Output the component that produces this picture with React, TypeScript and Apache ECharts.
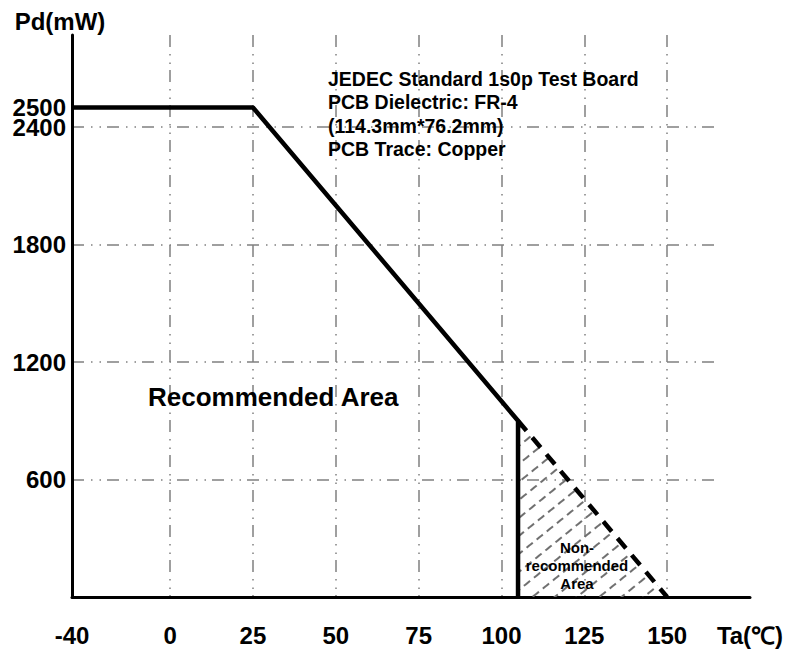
import React, { useEffect, useRef } from "react";
import * as echarts from "echarts";

// ---- data ----
const xLabelValues = [-40, 0, 25, 50, 75, 100, 125, 150, 175];
const xGridValues = [0, 25, 50, 75, 100, 125, 150];
const yLabelValues = [600, 1200, 1800, 2400];
const yExtraLabelValues = [2500];
const yGridValues = [600, 1200, 1800, 2400];
const deratingTa = [-40, 25, 105, 105];
const deratingPd = [2500, 2500, 900, 0];
const nonRecTa = [105, 150];
const nonRecPd = [900, 0];
const xAxisTitle = "Ta(℃)";
const yAxisTitle = "Pd(mW)";
const noteLines = [
  "JEDEC Standard 1s0p Test Board",
  "PCB Dielectric: FR-4",
  "(114.3mm*76.2mm)",
  "PCB Trace: Copper",
];

const FONT = "'Liberation Sans', Arial, sans-serif";
const GRID_TYPE = [12, 7, 1.5, 7, 1.5, 6];

export default function App() {
  const ref = useRef<HTMLDivElement>(null);
  useEffect(() => {
    if (!ref.current) return;
    const chart = echarts.init(ref.current, null, { renderer: "svg" });
    const derating = deratingTa.map((t, i) => [t, deratingPd[i]]);
    const nonRec = nonRecTa.map((t, i) => [t, nonRecPd[i]]);
    const hatch = {
      symbol: "rect",
      symbolSize: 1,
      color: "#707070",
      backgroundColor: "rgba(255,255,255,0)",
      dashArrayX: [[8, 5]],
      dashArrayY: [2, 12],
      rotation: -0.68,
    };
    const labelText = {
      fontSize: 24,
      fontWeight: "bold",
      fontFamily: FONT,
      color: "#000",
    };
    const option: any = {
      animation: false,
      backgroundColor: "#ffffff",
      textStyle: { fontFamily: FONT },
      grid: [
        { left: 72, right: 38, top: 35, bottom: 53 },
        { left: 72, right: 74, top: 35, bottom: 53 },
        { left: 72, right: 38, top: 35, bottom: 53 },
      ],
      xAxis: [
        {
          type: "value",
          gridIndex: 0,
          min: -40,
          max: 175,
          breaks: [{ start: -35, end: -5, gap: 19.6 }],
          breakArea: { show: false },
          axisLine: { show: false },
          axisTick: { show: false, customValues: xGridValues },
          axisLabel: {
            customValues: xLabelValues,
            hideOverlap: false,
            margin: 26,
            ...labelText,
            formatter: (v: number) => (v === 175 ? "{n|" + xAxisTitle + "}" : String(v)),
            rich: { n: { ...labelText } },
          },
          splitLine: {
            show: true,
            lineStyle: { color: "#808080", width: 1.5, type: GRID_TYPE },
          },
        },
        {
          type: "value",
          gridIndex: 1,
          min: 0,
          max: 1,
          show: false,
        },
        {
          type: "value",
          gridIndex: 2,
          min: 0,
          max: 1,
          axisLine: { show: true, onZero: false, lineStyle: { color: "#000", width: 3 } },
          axisTick: { show: false },
          axisLabel: { show: false },
          splitLine: { show: false },
          z: 3,
        },
      ],
      yAxis: [
        {
          type: "value",
          gridIndex: 0,
          min: 0,
          max: 2870,
          name: yAxisTitle,
          nameLocation: "end",
          nameGap: 2,
          nameTextStyle: {
            ...labelText,
            align: "center",
            padding: [0, 24, 0, 0],
          },
          axisLine: { show: true, onZero: false, lineStyle: { color: "#000", width: 3 } },
          axisTick: { show: false, customValues: yLabelValues },
          axisLabel: {
            customValues: yLabelValues,
            hideOverlap: false,
            margin: 6,
            ...labelText,
            lineHeight: 18,
            formatter: (v: number) => String(v),
          },
          splitLine: { show: false },
          z: 3,
        },
        {
          type: "value",
          gridIndex: 1,
          min: 0,
          max: 2870,
          axisLine: { show: false },
          axisLabel: {
            show: true,
            customValues: yExtraLabelValues,
            margin: 6,
            ...labelText,
            lineHeight: 18,
            formatter: (v: number) => String(v),
          },
          axisTick: { show: false, customValues: yGridValues },
          splitLine: {
            show: true,
            lineStyle: { color: "#808080", width: 1.5, type: GRID_TYPE },
          },
        },
        {
          type: "value",
          gridIndex: 2,
          min: 0,
          max: 2870,
          show: false,
        },
      ],
      series: [
        {
          name: "Non-recommended",
          type: "line",
          xAxisIndex: 0,
          yAxisIndex: 0,
          data: nonRec,
          symbol: "none",
          lineStyle: { color: "#000", width: 4.5, type: [13, 9], decal: hatch },
          itemStyle: { decal: hatch },
          areaStyle: { color: "rgba(255,255,255,0)", opacity: 1 },
          z: 4,
        },
        {
          name: "Derating",
          type: "line",
          xAxisIndex: 0,
          yAxisIndex: 0,
          data: derating,
          symbol: "none",
          lineStyle: { color: "#000", width: 4.5 },
          z: 5,
        },
      ],
      graphic: [
        {
          type: "text",
          left: 328,
          top: 67,
          style: {
            text: noteLines.join("\n"),
            fontSize: 19.5,
            fontWeight: "bold",
            fontFamily: FONT,
            lineHeight: 23.4,
            fill: "#000",
          },
          z: 10,
        },
        {
          type: "text",
          left: 148,
          top: 384,
          style: {
            text: "Recommended Area",
            fontSize: 26,
            fontWeight: "bold",
            fontFamily: FONT,
            fill: "#000",
          },
          z: 10,
        },
        {
          type: "text",
          x: 577,
          y: 565,
          style: {
            text: "Non-\nrecommended\nArea",
            fontSize: 15,
            fontWeight: "bold",
            fontFamily: FONT,
            lineHeight: 18,
            align: "center",
            verticalAlign: "middle",
            fill: "#000",
          },
          z: 10,
        },
      ],
    };
    chart.setOption(option);
    return () => chart.dispose();
  }, []);
  return (
    <div
      ref={ref}
      style={{ position: "fixed", left: 0, top: 0, width: 788, height: 650 }}
    />
  );
}
